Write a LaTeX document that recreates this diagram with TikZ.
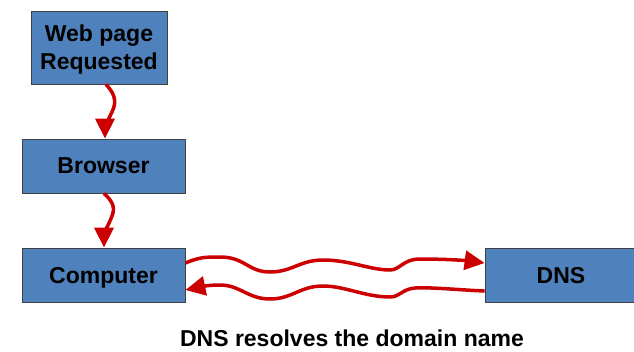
\documentclass[tikz,border=0pt]{standalone}
\usepackage{fontspec}
\setmainfont{Liberation Sans}
\usepackage{tikz}
\usetikzlibrary{arrows.meta}
\definecolor{boxblue}{RGB}{79,129,189}
\definecolor{arrowred}{RGB}{204,0,0}

\begin{document}
\begin{tikzpicture}[x=1pt,y=-1pt,
        box/.style={draw=black!75, line width=0.8pt, fill=boxblue, inner sep=0pt,
            font=\fontsize{23}{28}\selectfont\bfseries, align=center, text depth=0pt},
        wave/.style={draw=arrowred, line width=3.5pt,
            -{Triangle[length=20pt,width=19pt]}}]
        \useasboundingbox (0,0) rectangle (634,351);
        \node[box, minimum width=136pt, minimum height=73pt] (web) at (99,47.5) {Web page\\Requested};
        \node[box, minimum width=163pt, minimum height=54pt] (browser) at (103.5,166) {Browser};
        \node[box, minimum width=163pt, minimum height=54pt] (computer) at (103.5,275) {Computer};
        \node[box, minimum width=152pt, minimum height=54pt] (dns) at (561,275) {DNS};
        \node[font=\fontsize{23}{28}\selectfont\bfseries] (caption) at (352,338) {DNS resolves the domain name};
        \draw[wave] ([xshift=7pt]web.south) .. controls (113,92) and (118,100) .. (112,112)
            .. controls (108,120) and (105,128) .. ([xshift=1.5pt]browser.north);
        \draw[wave] ([xshift=0.5pt]browser.south) .. controls (111,200) and (116,206) .. (112,216)
            .. controls (108,226) and (104,234) .. ([xshift=0.5pt]computer.north);
        \draw[wave] ([yshift=12pt]computer.east) .. controls (200,257) and (205,257) .. (220,257)
            .. controls (245,257) and (248,272) .. (270,272)
            .. controls (292,272) and (300,260) .. (323,260)
            .. controls (350,260) and (370,270) .. (390,270)
            .. controls (400,270) and (403,259) .. (420,259)
            .. controls (450,259) and (470,261) .. ([yshift=12pt]dns.west);
        \draw[wave] ([yshift=-16pt]dns.west) .. controls (460,290) and (430,287) .. (415,288)
            .. controls (402,289) and (400,297) .. (390,297)
            .. controls (365,297) and (345,286) .. (323,286)
            .. controls (300,286) and (292,299) .. (270,299)
            .. controls (248,299) and (240,285) .. (220,285)
            .. controls (205,285) and (195,288) .. ([yshift=-15pt]computer.east);
\end{tikzpicture}
\end{document}
